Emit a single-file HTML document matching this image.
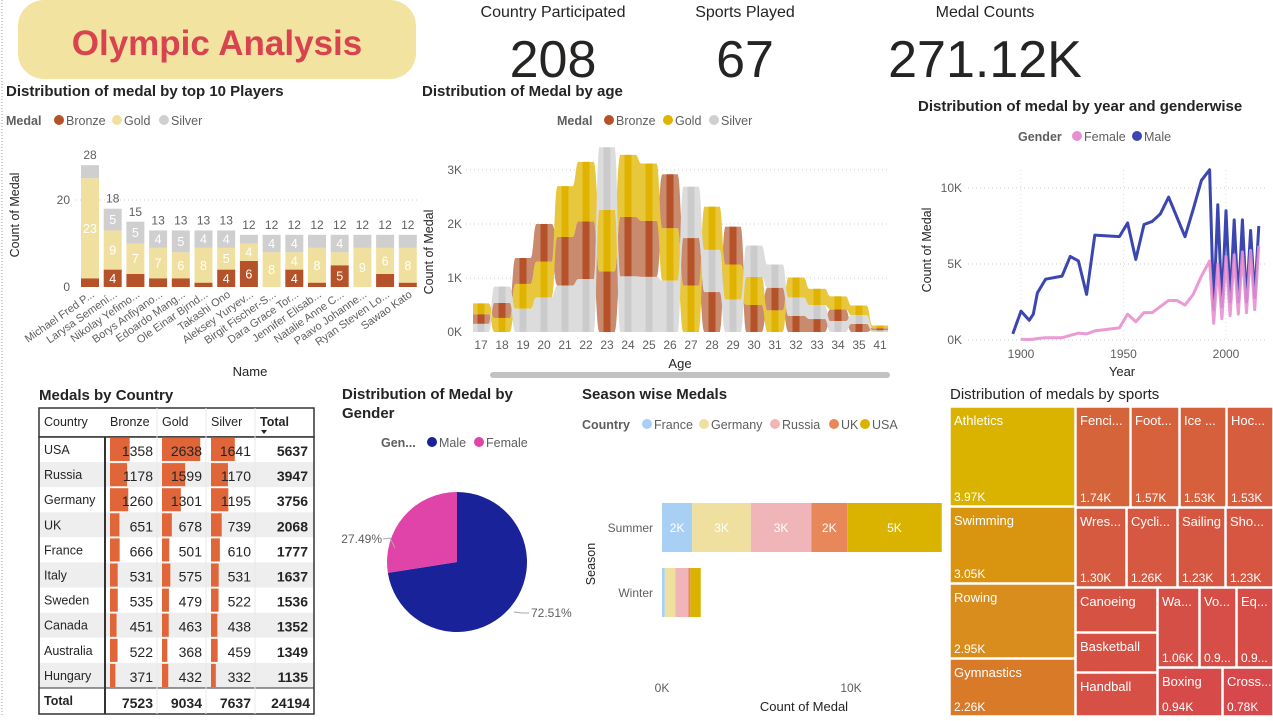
<!DOCTYPE html>
<html><head><meta charset="utf-8">
<style>
html,body{margin:0;padding:0;background:#fff;}
body{width:1273px;height:716px;overflow:hidden;font-family:"Liberation Sans",sans-serif;}
svg text{font-family:"Liberation Sans",sans-serif;}
</style></head>
<body>
<svg id="dash" width="1273" height="716" viewBox="0 0 1273 716" xmlns="http://www.w3.org/2000/svg">
  <line x1="2" y1="0" x2="2" y2="716" stroke="#999" stroke-dasharray="1,2"/>
  <rect x="18" y="0" width="398" height="79" rx="26" fill="#f2e3a0"/>
  <text x="217" y="55" text-anchor="middle" font-size="35" font-weight="bold" fill="#d9424f">Olympic Analysis</text>
  <g>
    <text x="553" y="17" text-anchor="middle" font-size="16" fill="#252423">Country Participated</text>
    <text x="553" y="77" text-anchor="middle" font-size="52" fill="#252423">208</text>
  </g>
  <g>
    <text x="745" y="17" text-anchor="middle" font-size="16" fill="#252423">Sports Played</text>
    <text x="745" y="77" text-anchor="middle" font-size="52" fill="#252423">67</text>
  </g>
  <g>
    <text x="985" y="17" text-anchor="middle" font-size="16" fill="#252423">Medal Counts</text>
    <text x="985" y="77" text-anchor="middle" font-size="52" fill="#252423">271.12K</text>
  </g>

  <g id="players">
    <text x="6" y="96" font-size="15" font-weight="bold" fill="#252423">Distribution of medal by top 10 Players</text>
    <g>
      <text x="6" y="125" font-size="12.5" font-weight="bold" fill="#605e5c">Medal</text>
      <circle cx="59" cy="120" r="5" fill="#b5522a"/><text x="66" y="125" font-size="12.5" fill="#605e5c">Bronze</text>
      <circle cx="117" cy="120" r="5" fill="#f0e0a0"/><text x="124" y="125" font-size="12.5" fill="#605e5c">Gold</text>
      <circle cx="164" cy="120" r="5" fill="#cfcfcf"/><text x="171" y="125" font-size="12.5" fill="#605e5c">Silver</text>
    </g>
    <text transform="translate(19,215) rotate(-90)" text-anchor="middle" font-size="12.5" fill="#252423">Count of Medal</text>
    <text x="250" y="376" text-anchor="middle" font-size="13" fill="#252423">Name</text>
  </g>

  <g id="age">
    <text x="422" y="96" font-size="15" font-weight="bold" fill="#252423">Distribution of Medal by age</text>
    <g>
      <text x="557" y="125" font-size="12.5" font-weight="bold" fill="#605e5c">Medal</text>
      <circle cx="609" cy="120" r="5" fill="#b5522a"/><text x="616" y="125" font-size="12.5" fill="#605e5c">Bronze</text>
      <circle cx="668" cy="120" r="5" fill="#e0b400"/><text x="675" y="125" font-size="12.5" fill="#605e5c">Gold</text>
      <circle cx="714" cy="120" r="5" fill="#cfcfcf"/><text x="721" y="125" font-size="12.5" fill="#605e5c">Silver</text>
    </g>
    <text transform="translate(433,252) rotate(-90)" text-anchor="middle" font-size="12.5" fill="#252423">Count of Medal</text>
    <text x="680" y="368" text-anchor="middle" font-size="13" fill="#252423">Age</text>
    <rect x="490" y="372" width="400" height="6" rx="3" fill="#c2c2c2"/>
  </g>

  <g id="year">
    <text x="918" y="111" font-size="15" font-weight="bold" fill="#252423">Distribution of medal by year and genderwise</text>
    <g>
      <text x="1018" y="141" font-size="12.5" font-weight="bold" fill="#605e5c">Gender</text>
      <circle cx="1077" cy="136" r="5" fill="#e88fcf"/><text x="1084" y="141" font-size="12.5" fill="#605e5c">Female</text>
      <circle cx="1137" cy="136" r="5" fill="#3b46b0"/><text x="1144" y="141" font-size="12.5" fill="#605e5c">Male</text>
    </g>
    <text transform="translate(931,250) rotate(-90)" text-anchor="middle" font-size="12.5" fill="#252423">Count of Medal</text>
    <text x="1122" y="376" text-anchor="middle" font-size="13" fill="#252423">Year</text>
  </g>

  <g id="table">
    <text x="39" y="400" font-size="15" font-weight="bold" fill="#252423">Medals by Country</text>
  </g>

  <g id="pie">
    <text x="342" y="399" font-size="15" font-weight="bold" fill="#252423">Distribution of Medal by</text>
    <text x="342" y="418" font-size="15" font-weight="bold" fill="#252423">Gender</text>
    <g>
      <text x="381" y="447" font-size="12.5" font-weight="bold" fill="#605e5c">Gen...</text>
      <circle cx="432" cy="442" r="5" fill="#1a2299"/><text x="439" y="447" font-size="12.5" fill="#605e5c">Male</text>
      <circle cx="479" cy="442" r="5" fill="#e044a8"/><text x="486" y="447" font-size="12.5" fill="#605e5c">Female</text>
    </g>
  </g>

  <g id="season">
    <text x="582" y="399" font-size="15" font-weight="bold" fill="#252423">Season wise Medals</text>
    <g>
      <text x="582" y="429" font-size="12.5" font-weight="bold" fill="#605e5c">Country</text>
      <circle cx="647" cy="424" r="5" fill="#a8d0f5"/><text x="654" y="429" font-size="12.5" fill="#605e5c">France</text>
      <circle cx="704" cy="424" r="5" fill="#f0e0a0"/><text x="711" y="429" font-size="12.5" fill="#605e5c">Germany</text>
      <circle cx="775" cy="424" r="5" fill="#f0b5b8"/><text x="782" y="429" font-size="12.5" fill="#605e5c">Russia</text>
      <circle cx="834" cy="424" r="5" fill="#e8875a"/><text x="841" y="429" font-size="12.5" fill="#605e5c">UK</text>
      <circle cx="865" cy="424" r="5" fill="#d9b300"/><text x="872" y="429" font-size="12.5" fill="#605e5c">USA</text>
    </g>
    <text transform="translate(595,564) rotate(-90)" text-anchor="middle" font-size="12.5" fill="#252423">Season</text>
    <text x="804" y="711" text-anchor="middle" font-size="13" fill="#252423">Count of Medal</text>
  </g>

  <g id="tree">
    <text x="950" y="399" font-size="15" fill="#252423">Distribution of medals by sports</text>
  </g>
</svg>
<script>
const NS="http://www.w3.org/2000/svg";
function mk(parent,tag,attrs,txt){const e=document.createElementNS(NS,tag);for(const k in attrs)e.setAttribute(k,attrs[k]);if(txt!==undefined)e.textContent=txt;parent.appendChild(e);return e;}

const playerNames=["Michael Fred P...","Larysa Semení...","Nikolay Yefimo...","Borys Anfiyano...","Edoardo Mang...","Ole Einar Bjrnd...","Takashi Ono","Aleksey Yuryev...","Birgit Fischer-S...","Dara Grace Tor...","Jennifer Elisab...","Natalie Anne C...","Paavo Johanne...","Ryan Steven Lo...","Sawao Kato"];
const playerBronze=[2,4,3,2,2,1,4,6,0,4,1,5,0,3,1];
const playerGold=[23,9,7,7,6,8,5,4,8,4,8,3,9,6,8];
const playerSilver=[3,5,5,4,5,4,4,2,4,4,3,4,3,3,3];
const playerTicks=[0,20];

const ages=["17","18","19","20","21","22","23","24","25","26","27","28","29","30","31","32","33","34","35","41"];
const ageBronze=[0.18,0.28,0.48,0.70,0.90,1.07,1.12,1.10,1.04,1.00,0.88,0.74,0.70,0.50,0.42,0.30,0.24,0.22,0.15,0.04];
const ageGold=[0.20,0.26,0.46,0.66,0.94,1.10,1.14,1.15,1.06,0.97,0.86,0.80,0.65,0.52,0.40,0.37,0.30,0.24,0.18,0.05];
const ageSilver=[0.15,0.30,0.43,0.64,0.86,0.98,1.16,1.03,1.02,0.95,0.95,0.78,0.60,0.58,0.43,0.34,0.26,0.20,0.16,0.03];
const ageTicks=[0,1,2,3];

const years=[1896,1900,1904,1906,1908,1912,1920,1924,1928,1932,1936,1948,1952,1956,1960,1964,1968,1972,1976,1980,1984,1988,1992,1994,1996,1998,2000,2002,2004,2006,2008,2010,2012,2014,2016];
const maleMedals=[0.4,1.9,1.3,1.7,3.1,4.0,4.2,5.5,5.2,3.0,6.9,6.8,7.7,5.3,7.6,7.8,8.3,9.4,8.1,6.8,8.6,10.5,11.2,2.0,8.9,2.2,8.5,2.5,7.9,2.5,7.9,2.5,7.2,2.8,7.5];
const femaleMedals=[null,0.05,0.03,0.05,0.1,0.15,0.15,0.3,0.45,0.4,0.6,0.8,1.7,1.2,1.8,1.8,2.2,2.6,2.6,2.3,3.0,4.2,5.2,1.1,5.0,1.4,5.5,1.6,5.6,1.7,5.8,1.8,5.9,2.0,6.2];
const yearTicks=[0,5,10];
const yearLabels=[1900,1950,2000];

const countries=["USA","Russia","Germany","UK","France","Italy","Sweden","Canada","Australia","Hungary"];
const tblBronze=[1358,1178,1260,651,666,531,535,451,522,371];
const tblGold=[2638,1599,1301,678,501,575,479,463,368,432];
const tblSilver=[1641,1170,1195,739,610,531,522,438,459,332];

const genders=["Male","Female"];
const genderShare=[72.51,27.49];

const seasons=["Summer","Winter"];
const seasonCountries=["France","Germany","Russia","UK","USA"];
const summerVals=[1.6,3.1,3.2,1.9,5.0];
const winterVals=[0.15,0.55,0.7,0.1,0.55];
const seasonTicks=[0,10];

const sports=["Athletics","Swimming","Rowing","Gymnastics","Fenci...","Foot...","Ice ...","Hoc...","Wres...","Cycli...","Sailing","Sho...","Canoeing","Basketball","Handball","Wa...","Vo...","Eq...","Boxing","Cross..."];
const sportVals=["3.97K","3.05K","2.95K","2.26K","1.74K","1.57K","1.53K","1.53K","1.30K","1.26K","1.23K","1.23K","","","","1.06K","0.9...","0.9...","0.94K","0.78K"];

(function(){
  const g=document.getElementById('players');
  const px=i=>90+i*22.7, py=v=>287-v*4.35, bw=18;
  playerTicks.forEach(t=>{
    const tl=mk(g,'text',{x:70,y:py(t)+4,'text-anchor':'end','font-size':12,fill:'#605e5c'},t);
    
    
    if(t>0){const gl=mk(g,'line',{x1:76,x2:420,y1:py(t),y2:py(t),stroke:'#ccc','stroke-dasharray':'1,3'});
    
    }
  });
  playerNames.forEach((n,i)=>{
    const segs=[[playerBronze[i],'#b5522a'],[playerGold[i],'#f0e0a0'],[playerSilver[i],'#cfcfcf']];
    let acc=0;
    segs.forEach((s,k)=>{
      if(s[0]<=0)return;
      const r=mk(g,'rect',{x:px(i)-bw/2,y:py(acc+s[0]),width:bw,height:s[0]*4.35,fill:s[1]});
      
      
      if(s[0]>=4){const lt=mk(g,'text',{x:px(i),y:py(acc+s[0]/2)+4.5,'text-anchor':'middle','font-size':12.5,fill:'#fff'},s[0]);
      
      }
      acc+=s[0];
    });
    const tt=mk(g,'text',{x:px(i),y:py(acc)-6,'text-anchor':'middle','font-size':12,fill:'#605e5c'},acc);
    
    
    const nl=mk(g,'text',{transform:`translate(${px(i)+5},${296}) rotate(-35)`,'text-anchor':'end','font-size':11,fill:'#605e5c'},n);
    
    
  });
})();

(function(){
  const g=document.getElementById('age');
  const ax=i=>481+i*21, ay=v=>332-v*54, hw=8;
  ageTicks.forEach(t=>{
    const tl=mk(g,'text',{x:462,y:ay(t)+4,'text-anchor':'end','font-size':12,fill:'#605e5c'},t+'K');
    
    
    if(t>0){const gl=mk(g,'line',{x1:466,x2:890,y1:ay(t),y2:ay(t),stroke:'#ccc','stroke-dasharray':'1,3'});
    
    }
  });
  const series=[['bronze',ageBronze,'#c98a6e','#b5522a'],['gold',ageGold,'#e9c73c','#dfb300'],['silver',ageSilver,'#dcdcdc','#cbcbcb']];
  const stacks=ages.map((a,i)=>{
    const order=series.map((s,k)=>({k,v:s[1][i]})).sort((p,q)=>p.v-q.v);
    const pos={};let acc=0;
    order.forEach(o=>{pos[o.k]=[acc,acc+o.v];acc+=o.v;});
    return pos;
  });
  for(let i=0;i<ages.length-1;i++){
    series.forEach((s,k)=>{
      const a=stacks[i][k],b=stacks[i+1][k];
      const x1=ax(i)+hw-0.5,x2=ax(i+1)-hw+0.5,xm=(x1+x2)/2;
      const d=`M${x1},${ay(a[1])} C${xm},${ay(a[1])} ${xm},${ay(b[1])} ${x2},${ay(b[1])} L${x2},${ay(b[0])} C${xm},${ay(b[0])} ${xm},${ay(a[0])} ${x1},${ay(a[0])} Z`;
      const p=mk(g,'path',{d,fill:s[2]});
      
      
    });
  }
  ages.forEach((a,i)=>{
    series.forEach((s,k)=>{
      const st=stacks[i][k];
      const r=mk(g,'rect',{x:ax(i)-hw,y:ay(st[1]),width:hw*2,height:(st[1]-st[0])*54,fill:s[2]});
      
      
      const c=mk(g,'rect',{x:ax(i)-3.5,y:ay(st[1]),width:7,height:(st[1]-st[0])*54,fill:s[3]});
      
      
    });
    const lt=mk(g,'text',{x:ax(i),y:349,'text-anchor':'middle','font-size':12,fill:'#605e5c'},a);
    
    
  });
})();

(function(){
  const g=document.getElementById('year');
  const yx=y=>1021+(y-1900)*2.05, yy=v=>340-v*15.2;
  yearTicks.forEach(t=>{
    const tl=mk(g,'text',{x:962,y:yy(t)+4,'text-anchor':'end','font-size':12,fill:'#605e5c'},t+'K');
    
    
    const gl=mk(g,'line',{x1:968,x2:1265,y1:yy(t),y2:yy(t),stroke:'#ccc','stroke-dasharray':'1,3'});
    
    
  });
  yearLabels.forEach(y=>{
    const tl=mk(g,'text',{x:yx(y),y:358,'text-anchor':'middle','font-size':12,fill:'#605e5c'},y);
    
    
    const gl=mk(g,'line',{x1:yx(y),x2:yx(y),y1:170,y2:340,stroke:'#ddd','stroke-dasharray':'1,3'});
    
    
  });
  const pts=arr=>years.map((y,i)=>arr[i]==null?null:`${yx(y)},${yy(arr[i])}`).filter(p=>p).join(' ');
  const m=mk(g,'polyline',{points:pts(maleMedals),fill:'none',stroke:'#3b46b0','stroke-width':3,'stroke-linejoin':'round'});
  
  
  const f=mk(g,'polyline',{points:pts(femaleMedals),fill:'none',stroke:'#e88fcf','stroke-width':3,'stroke-linejoin':'round',opacity:0.9});
  
  
})();

(function(){
  const g=document.getElementById('table');
  const x0=39,x1=314,hy=408,rh=25.1,top=437;
  const cols=[39,105,157,206,255,314];
  const head=mk(g,'rect',{x:x0,y:hy,width:x1-x0,height:29,fill:'#fff',stroke:'#333','stroke-width':1.5});
  
  
  ["Country","Bronze","Gold","Silver"].forEach((h,i)=>{
    const t=mk(g,'text',{x:cols[i]+5,y:426,'font-size':12.5,fill:'#252423'},h);
    
    
  });
  const th=mk(g,'text',{x:260,y:426,'font-size':12.5,'font-weight':'bold',fill:'#252423'},'Total');
  
  
  mk(g,'path',{d:'M261,430 l6,0 l-3,4 z',fill:'#252423'});
  const sc=0.0145;
  countries.forEach((c,i)=>{
    const y=top+i*rh;
    const row=mk(g,'rect',{x:x0,y:y,width:x1-x0,height:rh,fill:i%2?'#eeeeee':'#fff'});
    
    
    const vals=[tblBronze[i],tblGold[i],tblSilver[i]];
    vals.forEach((v,k)=>{
      const b=mk(g,'rect',{x:cols[k+1]+5,y:y+1,width:v*sc,height:rh-2,fill:'#e0663a'});
      
      
      const t=mk(g,'text',{x:cols[k+2]-4,y:y+19,'text-anchor':'end','font-size':14,fill:'#252423'},v);
      
      
    });
    const ct=mk(g,'text',{x:x0+5,y:y+17,'font-size':12.5,fill:'#252423'},c);
    
    
    const tt=mk(g,'text',{x:x1-6,y:y+19,'text-anchor':'end','font-size':14,'font-weight':'bold',fill:'#252423'},vals[0]+vals[1]+vals[2]);
    
    
  });
  const ty=top+countries.length*rh;
  const tr=mk(g,'rect',{x:x0,y:ty,width:x1-x0,height:714-ty,fill:'#fff'});
  
  
  const tl=mk(g,'text',{x:x0+5,y:ty+17,'font-size':12.5,'font-weight':'bold',fill:'#252423'},'Total');
  
  
  const sums=[tblBronze,tblGold,tblSilver].map(a=>a.reduce((p,q)=>p+q,0));
  sums.concat([sums[0]+sums[1]+sums[2]]).forEach((s,k)=>{
    const t=mk(g,'text',{x:cols[k+2]-4,y:ty+20,'text-anchor':'end','font-size':14,'font-weight':'bold',fill:'#252423'},s);
    
    
  });
  mk(g,'rect',{x:x0,y:top,width:x1-x0,height:714-top,fill:'none',stroke:'#333','stroke-width':1.5});
  mk(g,'line',{x1:105,x2:105,y1:top,y2:714,stroke:'#333','stroke-width':2});
  mk(g,'line',{x1:x0,x2:x1,y1:ty,y2:ty,stroke:'#333','stroke-width':1});
  [157,206,255].forEach(x=>mk(g,'line',{x1:x,x2:x,y1:hy,y2:714,stroke:'#e8e8e8','stroke-width':1}));
})();

(function(){
  const g=document.getElementById('pie');
  const cx=457,cy=562,r=70;const cols=['#1a2299','#e044a8'];
  let a0=0;
  genderShare.forEach((s,i)=>{
    const a1=a0+s/100*2*Math.PI;
    const p=(a)=>[cx+r*Math.sin(a),cy-r*Math.cos(a)];
    const [sx,sy]=p(a0),[ex,ey]=p(a1);
    const large=(a1-a0)>Math.PI?1:0;
    const sl=mk(g,'path',{d:`M${cx},${cy} L${sx},${sy} A${r},${r} 0 ${large} 1 ${ex},${ey} Z`,fill:cols[i]});
    
    
    a0=a1;
  });
  mk(g,'polyline',{points:'383,539 390,538 395,548',fill:'none',stroke:'#aaa'});
  mk(g,'polyline',{points:'514,612 522,613 529,613',fill:'none',stroke:'#aaa'});
  const l1=mk(g,'text',{x:382,y:543,'text-anchor':'end','font-size':12,fill:'#605e5c'},genderShare[1].toFixed(2)+'%');
  
  
  const l2=mk(g,'text',{x:531,y:617,'font-size':12,fill:'#605e5c'},genderShare[0].toFixed(2)+'%');
  
  
})();

(function(){
  const g=document.getElementById('season');
  const sx=v=>662+v*18.9;const cols=['#a8d0f5','#f0e0a0','#f0b5b8','#e8875a','#d9b300'];
  seasonTicks.forEach(t=>{
    const tl=mk(g,'text',{x:sx(t),y:692,'text-anchor':'middle','font-size':12,fill:'#605e5c'},t+'K');
    
    
  });
  [[summerVals,503,'Summer'],[winterVals,568,'Winter']].forEach(([vals,y,name])=>{
    const sl=mk(g,'text',{x:653,y:y+29,'text-anchor':'end','font-size':12,fill:'#605e5c'},name);
    
    
    let acc=0;
    vals.forEach((v,k)=>{
      const r=mk(g,'rect',{x:sx(acc),y:y,width:v*18.9,height:49,fill:cols[k]});
      
      
      if(v>=1){const t=mk(g,'text',{x:sx(acc+v/2),y:y+29,'text-anchor':'middle','font-size':12,fill:'#fff'},Math.round(v)+'K');
      
      }
      acc+=v;
    });
  });
})();

(function(){
  const g=document.getElementById('tree');
  const rects=[[950,407,125,99,'#d9b300'],[950,507,125,76,'#d9950f'],[950,584,125,74,'#d98d1c'],[950,659,125,57,'#d97a28'],
  [1076,407,54,100,'#d6643a'],[1131,407,48,100,'#d6613b'],[1180,407,46,100,'#d65f3c'],[1227,407,46,100,'#d65d3d'],
  [1076,508,50,79,'#d65a3f'],[1127,508,50,79,'#d65840'],[1178,508,47,79,'#d65741'],[1226,508,47,79,'#d65642'],
  [1076,588,81,44,'#d65343'],[1076,633,81,39,'#d65144'],[1076,673,81,43,'#d65045'],
  [1158,588,41,79,'#d64f46'],[1200,588,36,79,'#d64e47'],[1237,588,36,79,'#d64d48'],[1158,668,64,48,'#d64b49'],[1223,668,50,48,'#d6484b']];
  sports.forEach((s,i)=>{
    const [x,y,w,h,c]=rects[i];
    const r=mk(g,'rect',{x,y,width:w,height:h,fill:c,stroke:'#fff','stroke-width':1.5});
    
    
    const t=mk(g,'text',{x:x+4,y:y+18,'font-size':13,fill:'#fff'},s);
    
    
    if(sportVals[i]){const v=mk(g,'text',{x:x+4,y:y+h-5,'font-size':12,fill:'#fff'},sportVals[i]);
    
    }
  });
})();
</script>
</body></html>
